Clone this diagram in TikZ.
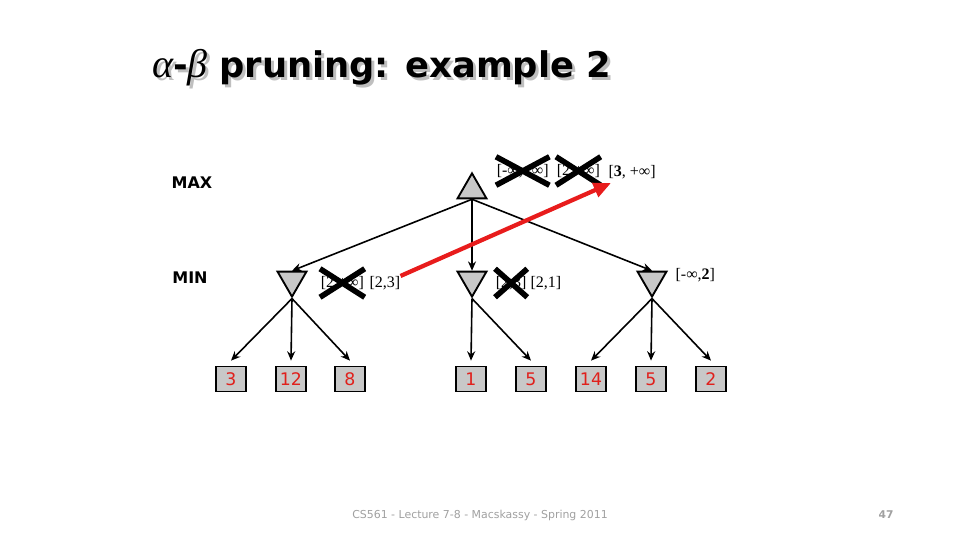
\documentclass[tikz,border=0pt]{standalone}
\usepackage{fontspec}
\setmainfont{Liberation Serif}
\newfontfamily\vfont{DejaVu Sans}
\usetikzlibrary{shapes.geometric,shapes.misc,arrows.meta}
\definecolor{nodegray}{HTML}{C8C8C8}
\definecolor{leafred}{HTML}{E0201C}
\definecolor{redarrow}{HTML}{E81C1C}
\definecolor{footgray}{HTML}{A0A0A0}
\newcommand\ttlText{{\fontsize{30}{30}\selectfont\itshape α}{\vfont\bfseries -}{\fontsize{30}{30}\selectfont\itshape β}\hspace{2pt} {\vfont\bfseries pruning: example 2}}
\begin{document}
\begin{tikzpicture}[x=0.75pt,y=-0.75pt,
  maxnode/.style={regular polygon, regular polygon sides=3, draw, fill=nodegray, line width=1.4pt, minimum size=25pt, inner sep=0pt},
  minnode/.style={maxnode, shape border rotate=180},
  leaf/.style={draw, fill=nodegray, line width=0.8pt, minimum width=22.5pt, minimum height=18.75pt, inner sep=0pt, font=\vfont\fontsize{13}{13}\selectfont, text=leafred},
  edge/.style={line width=1.2pt, -{Stealth[length=7pt,width=6pt]}},
  lvl/.style={font=\vfont\bfseries\fontsize{12}{12}\selectfont},
  bound/.style={font=\fontsize{12}{13}\selectfont, inner sep=1pt},
  crossed/.style={bound, cross out, draw, line width=4.2pt, inner ysep=3.5pt, inner xsep=-1.5pt},
  ttl/.style={font=\fontsize{26.5}{30}\selectfont, anchor=west, inner sep=0pt}
]
\useasboundingbox (0,0) rectangle (960,540);
% title (with its drop shadow)
\node[ttl, text=gray!50] (ttlshadow) at (155,71) {\ttlText};
\node[ttl] (ttl) at (152,68) {\ttlText};
% level labels
\node[lvl] (maxlbl) at (192,183) {MAX};
\node[lvl] (minlbl) at (190,278) {MIN};
% nodes
\node[maxnode] (mx) at (472,190) {};
\node[minnode] (mA) at (292,280) {};
\node[minnode] (mB) at (472,280) {};
\node[minnode] (mC) at (652,280) {};
% leaves
\node[leaf] (l1) at (231,379) {3};
\node[leaf] (l2) at (291,379) {12};
\node[leaf] (l3) at (350,379) {8};
\node[leaf] (l4) at (471,379) {1};
\node[leaf] (l5) at (531,379) {5};
\node[leaf] (l6) at (591,379) {14};
\node[leaf] (l7) at (651,379) {5};
\node[leaf] (l8) at (711,379) {2};
% edges
\draw[edge] (mx.side 2) -- (mA.side 2);
\draw[edge] (mx.side 2) -- (mB.side 2);
\draw[edge] (mx.side 2) -- (mC.side 2);
\foreach \m/\l in {mA/l1,mA/l2,mA/l3,mB/l4,mB/l5,mC/l6,mC/l7,mC/l8}
  \draw[edge] (\m.corner 1) -- ([yshift=4pt]\l.north);
% bound labels
\node[crossed, anchor=west] (bx1) at (496,171) {[-∞,+∞]};
\node[crossed, anchor=west] (bx2) at (556,171) {[2,+∞]};
\node[bound, anchor=west] (bx3) at (607,172) {[\textbf{3}, +∞]};
\node[crossed, anchor=west] (ba1) at (320,283) {[2,+∞]};
\node[bound, anchor=west] (ba2) at (368,283) {[2,3]};
\node[crossed, anchor=west] (bb1) at (495,283) {[2,3]};
\node[bound, anchor=west] (bb2) at (529,283) {[2,1]};
\node[bound, anchor=west] (bc1) at (674,275) {[-∞,\textbf{2}]};
% red arrow
\draw[redarrow, line width=3.2pt, -{Triangle[length=13pt,width=11pt]}] ([xshift=-1pt,yshift=-1pt]ba2.north east) -- ([xshift=3pt,yshift=-2pt]bx3.south west);
% footer
\node[font=\vfont\fontsize{8.2}{9}\selectfont, text=footgray] (foot) at (480,515) {CS561 - Lecture 7-8 - Macskassy - Spring 2011};
\node[font=\vfont\bfseries\fontsize{8}{9}\selectfont, text=footgray] (pg) at (886,515) {47};
\end{tikzpicture}
\end{document}
